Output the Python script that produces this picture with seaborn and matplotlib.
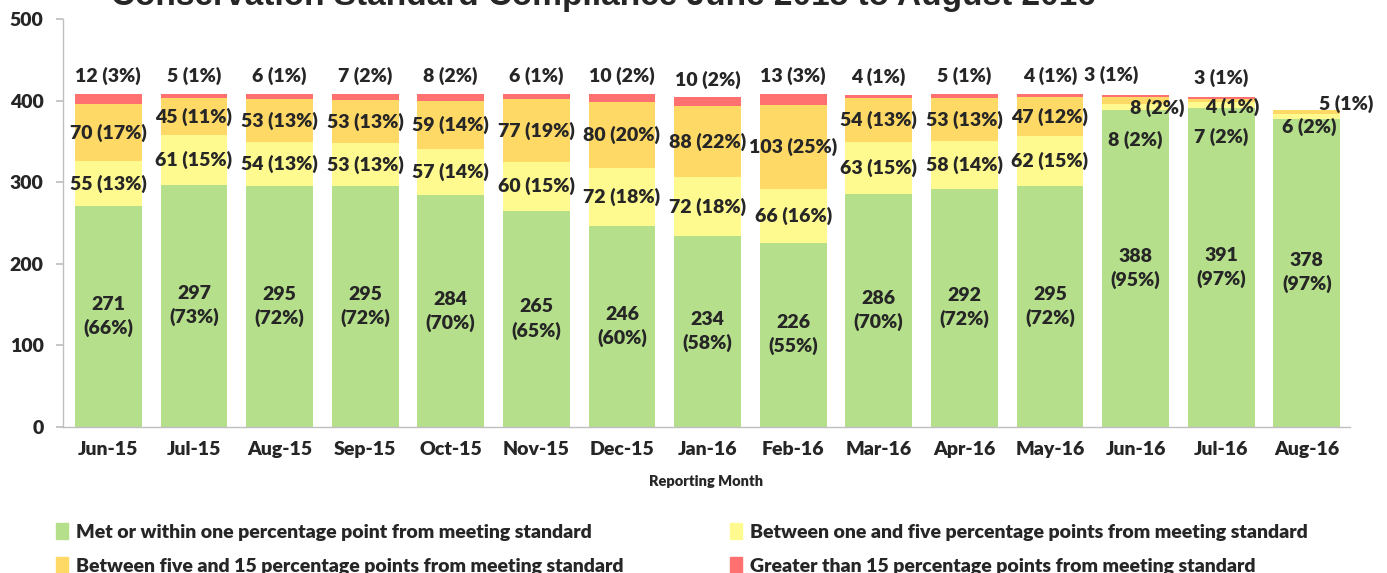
import numpy as np
import pandas as pd
import matplotlib
matplotlib.use("Agg")
import matplotlib.pyplot as plt
import seaborn as sns
from matplotlib.patches import Patch

sns.set_theme(style="white")
plt.rcParams['font.family'] = ['Lato', 'DejaVu Sans']

# data
months = ['Jun-15', 'Jul-15', 'Aug-15', 'Sep-15', 'Oct-15', 'Nov-15', 'Dec-15', 'Jan-16',
          'Feb-16', 'Mar-16', 'Apr-16', 'May-16', 'Jun-16', 'Jul-16', 'Aug-16']
met = [271, 297, 295, 295, 284, 265, 246, 234, 226, 286, 292, 295, 388, 391, 378]
one_five = [55, 61, 54, 53, 57, 60, 72, 72, 66, 63, 58, 62, 8, 7, 6]
five_15 = [70, 45, 53, 53, 59, 77, 80, 88, 103, 54, 53, 47, 8, 4, 5]
over_15 = [12, 5, 6, 7, 8, 6, 10, 10, 13, 4, 5, 4, 3, 3, 0]

met_pct = [66, 73, 72, 72, 70, 65, 60, 58, 55, 70, 72, 72, 95, 97, 97]
one_five_pct = [13, 15, 13, 13, 14, 15, 18, 18, 16, 15, 14, 15, 2, 2, 2]
five_15_pct = [17, 11, 13, 13, 14, 19, 20, 22, 25, 13, 13, 12, 2, 1, 1]
over_15_pct = [3, 1, 1, 2, 2, 1, 2, 2, 3, 1, 1, 1, 1, 1, 0]

labels = ['Met or within one percentage point from meeting standard',
          'Between one and five percentage points from meeting standard',
          'Between five and 15 percentage points from meeting standard',
          'Greater than 15 percentage points from meeting standard']
colors = ['#B5DF8A', '#FFFA8F', '#FFD966', '#FF7070']

W = 'heavy'

df = pd.DataFrame({'month': months, 'met': met, 'one_five': one_five,
                   'five_15': five_15, 'over_15': over_15})
df['c1'] = df['met']
df['c2'] = df['c1'] + df['one_five']
df['c3'] = df['c2'] + df['five_15']
df['c4'] = df['c3'] + df['over_15']

fig = plt.figure(figsize=(13.87, 5.73), dpi=100)
ax = fig.add_axes([0.0454, 0.2548, 0.9276, 0.712])

# cumulative bars drawn from tallest to shortest
for col, c in zip(['c4', 'c3', 'c2', 'c1'], colors[::-1]):
    sns.barplot(data=df, x='month', y=col, color=c, width=0.78, ax=ax,
                saturation=1, linewidth=0, errorbar=None)

fs = 14
# manual label placement overrides for the small segments (dx, y)
override = {
    (12, 'one_five'): (0.0, 352), (12, 'five_15'): (0.25, 391), (12, 'over_15'): (-0.28, 432),
    (13, 'one_five'): (0.0, 355), (13, 'five_15'): (0.13, 392), (13, 'over_15'): (0.0, 428),
    (14, 'one_five'): (0.03, 368), (14, 'five_15'): (0.46, 396),
}
for i in range(len(months)):
    ax.text(i, met[i] / 2, f"{met[i]}\n({met_pct[i]}%)", ha='center', va='center',
            fontsize=fs, fontweight=W, linespacing=1.4)
    segs = [('one_five', one_five[i], one_five_pct[i], df['c1'][i], df['c2'][i]),
            ('five_15', five_15[i], five_15_pct[i], df['c2'][i], df['c3'][i])]
    for key, v, p, lo, hi in segs:
        dx, y = override.get((i, key), (0, (lo + hi) / 2))
        ax.text(i + dx, y, f"{v} ({p}%)", ha='center', va='center',
                fontsize=fs, fontweight=W)
    if over_15[i] > 0:
        dx, y = override.get((i, 'over_15'), (0, df['c4'][i] + 22))
        ax.text(i + dx, y, f"{over_15[i]} ({over_15_pct[i]}%)", ha='center', va='center',
                fontsize=fs, fontweight=W)

ax.set_xlim(-0.53, 14.5)
ax.set_ylim(0, 500)
ax.set_yticks([0, 100, 200, 300, 400, 500])
ax.tick_params(axis='y', labelsize=14, length=5, color='#BFBFBF', direction='out',
               left=True, pad=9)
ax.tick_params(axis='x', labelsize=14, length=0, pad=10)
for t in ax.get_xticklabels() + ax.get_yticklabels():
    t.set_fontweight(W)
ax.set_xlabel('Reporting Month', fontsize=10.5, fontweight=W, labelpad=12)
ax.set_ylabel('')
sns.despine(ax=ax)
for s in ['left', 'bottom']:
    ax.spines[s].set_color('#BFBFBF')
    ax.spines[s].set_linewidth(1)

fig.text(0.435, 0.991, 'Conservation Standard Compliance June 2015 to August 2016',
         ha='center', va='baseline', fontsize=24, fontweight='bold',
         family=['Liberation Sans', 'DejaVu Sans'])

handles = [Patch(color=colors[0]), Patch(color=colors[2]),
           Patch(color=colors[1]), Patch(color=colors[3])]
leg_labels = [labels[0], labels[2], labels[1], labels[3]]
fig.legend(handles, leg_labels, ncol=2, loc='upper left', bbox_to_anchor=(0.028, 0.118),
           frameon=False, handlelength=0.6, handleheight=0.9,
           handletextpad=0.4, columnspacing=5.5, labelspacing=0.85,
           prop={'weight': W, 'size': 14})

fig.savefig('out.png', dpi=100)
